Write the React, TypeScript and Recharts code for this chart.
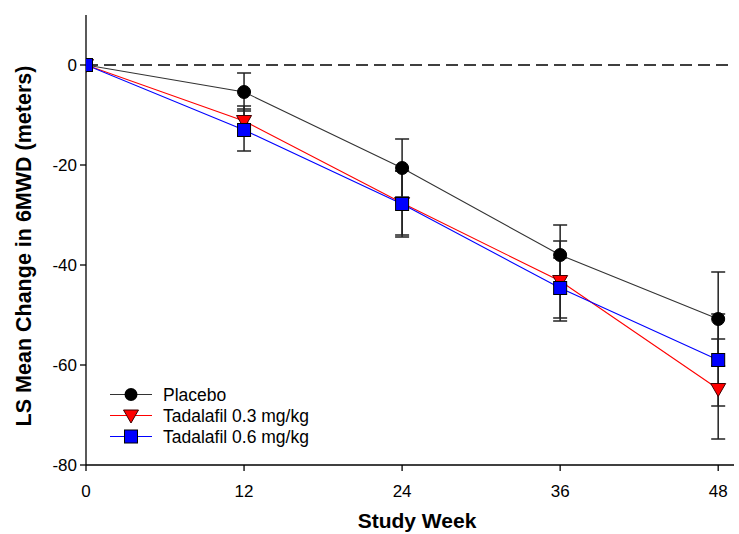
import React from 'react';
import { LineChart, Line, XAxis, YAxis, ErrorBar, ReferenceLine, Legend } from 'recharts';

const weeks = [0, 12, 24, 36, 48];
const seriesNames = ['Placebo', 'Tadalafil 0.3 mg/kg', 'Tadalafil 0.6 mg/kg'];
const placebo = [0, -5.4, -20.6, -38.0, -50.8];
const placeboErr = [null, 3.8, 5.8, 6.0, 9.4];
const tad03 = [0, -11.2, -27.6, -43.2, -64.8];
const tad03Err = [null, 3.0, 6.4, 8.0, 10.0];
const tad06 = [0, -13.0, -27.8, -44.6, -59.0];
const tad06Err = [null, 4.2, 6.6, 6.0, 9.2];
const xTicks = [0, 12, 24, 36, 48];
const yTicks = [-80, -60, -40, -20, 0];

const data = weeks.map((w, i) => ({
  week: w,
  placebo: placebo[i],
  placeboErr: placeboErr[i],
  tad03: tad03[i],
  tad03Err: tad03Err[i],
  tad06: tad06[i],
  tad06Err: tad06Err[i],
}));

const FONT = '"Liberation Sans", Arial, sans-serif';

const Circle = (props: any) => {
  const { cx, cy, index } = props;
  if (cx == null || cy == null) return <g key={`c${index}`} />;
  return <circle key={`c${index}`} cx={cx} cy={cy} r={6.5} fill="#000" stroke="#000" strokeWidth={1} />;
};
const Tri = (props: any) => {
  const { cx, cy, index } = props;
  if (cx == null || cy == null) return <g key={`t${index}`} />;
  return (
    <polygon
      key={`t${index}`}
      points={`${cx - 7.5},${cy - 5.5} ${cx + 7.5},${cy - 5.5} ${cx},${cy + 7.5}`}
      fill="#ff0000"
      stroke="#400000"
      strokeWidth={1}
    />
  );
};
const Sq = (props: any) => {
  const { cx, cy, index } = props;
  if (cx == null || cy == null) return <g key={`s${index}`} />;
  return <rect key={`s${index}`} x={cx - 6.5} y={cy - 6.5} width={13} height={13} fill="#0000ff" stroke="#000" strokeWidth={1} />;
};

const legendStyles = [
  { line: '#333333', shape: 'circle' },
  { line: '#ff0000', shape: 'tri' },
  { line: '#0000ff', shape: 'square' },
];

const renderLegend = () => (
  <svg width={240} height={66} style={{ display: 'block' }}>
    {seriesNames.map((name, i) => {
      const cy = 10.5 + i * 21;
      const st = legendStyles[i];
      const cx = 25;
      return (
        <g key={name}>
          <line x1={4} x2={46} y1={cy} y2={cy} stroke={st.line} strokeWidth={1.1} />
          {st.shape === 'circle' && <circle cx={cx} cy={cy} r={6.5} fill="#000" />}
          {st.shape === 'tri' && (
            <polygon
              points={`${cx - 7.5},${cy - 5.5} ${cx + 7.5},${cy - 5.5} ${cx},${cy + 7.5}`}
              fill="#ff0000"
              stroke="#400000"
              strokeWidth={1}
            />
          )}
          {st.shape === 'square' && (
            <rect x={cx - 6.5} y={cy - 6.5} width={13} height={13} fill="#0000ff" stroke="#000" strokeWidth={1} />
          )}
          <text x={57} y={cy + 6.3} fontSize={17.5} fontFamily={FONT} fill="#000">
            {name}
          </text>
        </g>
      );
    })}
  </svg>
);

export default function App() {
  return (
    <div style={{ position: 'absolute', left: 0, top: 0, width: 739, height: 534, background: '#fff', overflow: 'hidden' }}>
      <LineChart
        width={739}
        height={534}
        data={data}
        margin={{ top: 15, right: 5, bottom: 0, left: 0 }}
      >
        <XAxis
          dataKey="week"
          type="number"
          domain={[0, 49.2]}
          ticks={xTicks}
          allowDataOverflow
          height={69}
          tickSize={6}
          tickMargin={14}
          tick={{ fill: '#000', fontSize: 17, fontFamily: FONT }}
          axisLine={{ stroke: '#000', strokeWidth: 1.3 }}
          tickLine={{ stroke: '#000', strokeWidth: 1.3 }}
          label={{
            content: () => (
              <text x={417} y={528} textAnchor="middle" fontSize={21} fontWeight="bold" fontFamily={FONT} fill="#000">
                Study Week
              </text>
            ),
          }}
        />
        <YAxis
          type="number"
          domain={[-80, 10]}
          ticks={yTicks}
          allowDataOverflow
          width={86}
          tickSize={6}
          tickMargin={3}
          tick={{ fill: '#000', fontSize: 17, fontFamily: FONT }}
          axisLine={{ stroke: '#000', strokeWidth: 1.3 }}
          tickLine={{ stroke: '#000', strokeWidth: 1.3 }}
          label={{
            content: () => (
              <text
                x={30.5}
                y={246}
                transform="rotate(-90, 30.5, 246)"
                textAnchor="middle"
                fontSize={21.5}
                fontWeight="bold"
                fontFamily={FONT}
                fill="#000"
              >
                LS Mean Change in 6MWD (meters)
              </text>
            ),
          }}
        />
        <ReferenceLine y={0} stroke="#000" strokeWidth={1.3} strokeDasharray="12 6" />
        {/* error bars drawn first so markers sit on top */}
        <Line dataKey="placebo" stroke="none" dot={false} legendType="none" isAnimationActive={false}>
          <ErrorBar dataKey="placeboErr" width={7} stroke="#222" strokeWidth={1.5} direction="y" />
        </Line>
        <Line dataKey="tad03" stroke="none" dot={false} legendType="none" isAnimationActive={false}>
          <ErrorBar dataKey="tad03Err" width={7} stroke="#222" strokeWidth={1.5} direction="y" />
        </Line>
        <Line dataKey="tad06" stroke="none" dot={false} legendType="none" isAnimationActive={false}>
          <ErrorBar dataKey="tad06Err" width={7} stroke="#222" strokeWidth={1.5} direction="y" />
        </Line>
        <Line
          dataKey="placebo"
          stroke="#333333"
          strokeWidth={1.1}
          dot={Circle}
          isAnimationActive={false}
          name={seriesNames[0]}
        />
        <Line
          dataKey="tad03"
          stroke="#ff0000"
          strokeWidth={1.1}
          dot={Tri}
          isAnimationActive={false}
          name={seriesNames[1]}
        />
        <Line
          dataKey="tad06"
          stroke="#0000ff"
          strokeWidth={1.1}
          dot={Sq}
          isAnimationActive={false}
          name={seriesNames[2]}
        />
        <Legend
          layout="vertical"
          align="center"
          verticalAlign="middle"
          content={renderLegend}
          wrapperStyle={{ left: 106, top: 383.5, width: 240, height: 66 }}
        />
      </LineChart>
    </div>
  );
}
